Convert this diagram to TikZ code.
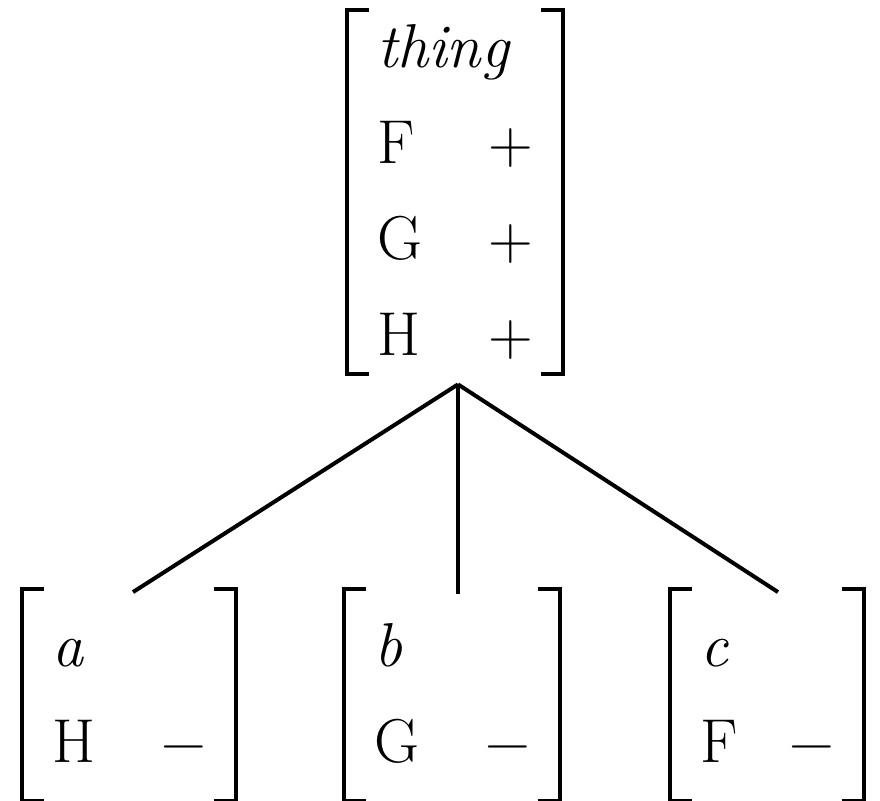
\documentclass[tikz,border=0pt]{standalone}
\usepackage{fontspec}
\begin{document}
\begin{tikzpicture}[
 x=.5pt,y=.5pt,
 avm/.style={inner xsep=15pt,inner ysep=4.75pt,font=\fontsize{31}{48}\selectfont},
 bracket/.style={line width=2pt},
 branch/.style={line width=2pt}]
 \useasboundingbox (0,0) rectangle (880,801);
 % Mother matrix.
 \node[avm,inner ysep=-5pt] (thing) at (455,609) {\begin{tabular}{@{}l@{\hspace{33pt}}c@{}}
   \multicolumn{2}{@{}l@{}}{\textit{thing}}\\
   F & +\\
   G & +\\
   H & +
  \end{tabular}};
 % Daughter matrices.
 \node[avm] (a) at (129,106) {\begin{tabular}{@{}l@{\hspace{33pt}}c@{}}
   \textit{a} & \\
   H & −
  \end{tabular}};
 \node[avm] (b) at (452,106) {\begin{tabular}{@{}l@{\hspace{33pt}}c@{}}
   \textit{b} & \\
   G & −
  \end{tabular}};
 \node[avm] (c) at (767,106) {\begin{tabular}{@{}l@{\hspace{26pt}}c@{}}
   \textit{c} & \\
   F & −
  \end{tabular}};
 % Brackets round each matrix.
 \foreach \n in {thing,a,b,c}{
  \draw[bracket] ([xshift=11pt]\n.north west) -- (\n.north west) -- (\n.south west) -- ([xshift=11pt]\n.south west);
  \draw[bracket] ([xshift=-11pt]\n.north east) -- (\n.north east) -- (\n.south east) -- ([xshift=-11pt]\n.south east);
 }
 % Branches from one point under the mother.
 \coordinate (fork) at ([xshift=1.5pt,yshift=-5pt]thing.south);
 \draw[branch] (fork) -- ([xshift=2pt,yshift=-1.5pt]a.north);
 \draw[branch] (fork) -- ([yshift=-2.5pt]b.north -| fork);
 \draw[branch] (fork) -- ([xshift=5.5pt,yshift=-1.5pt]c.north);
\end{tikzpicture}
\end{document}
